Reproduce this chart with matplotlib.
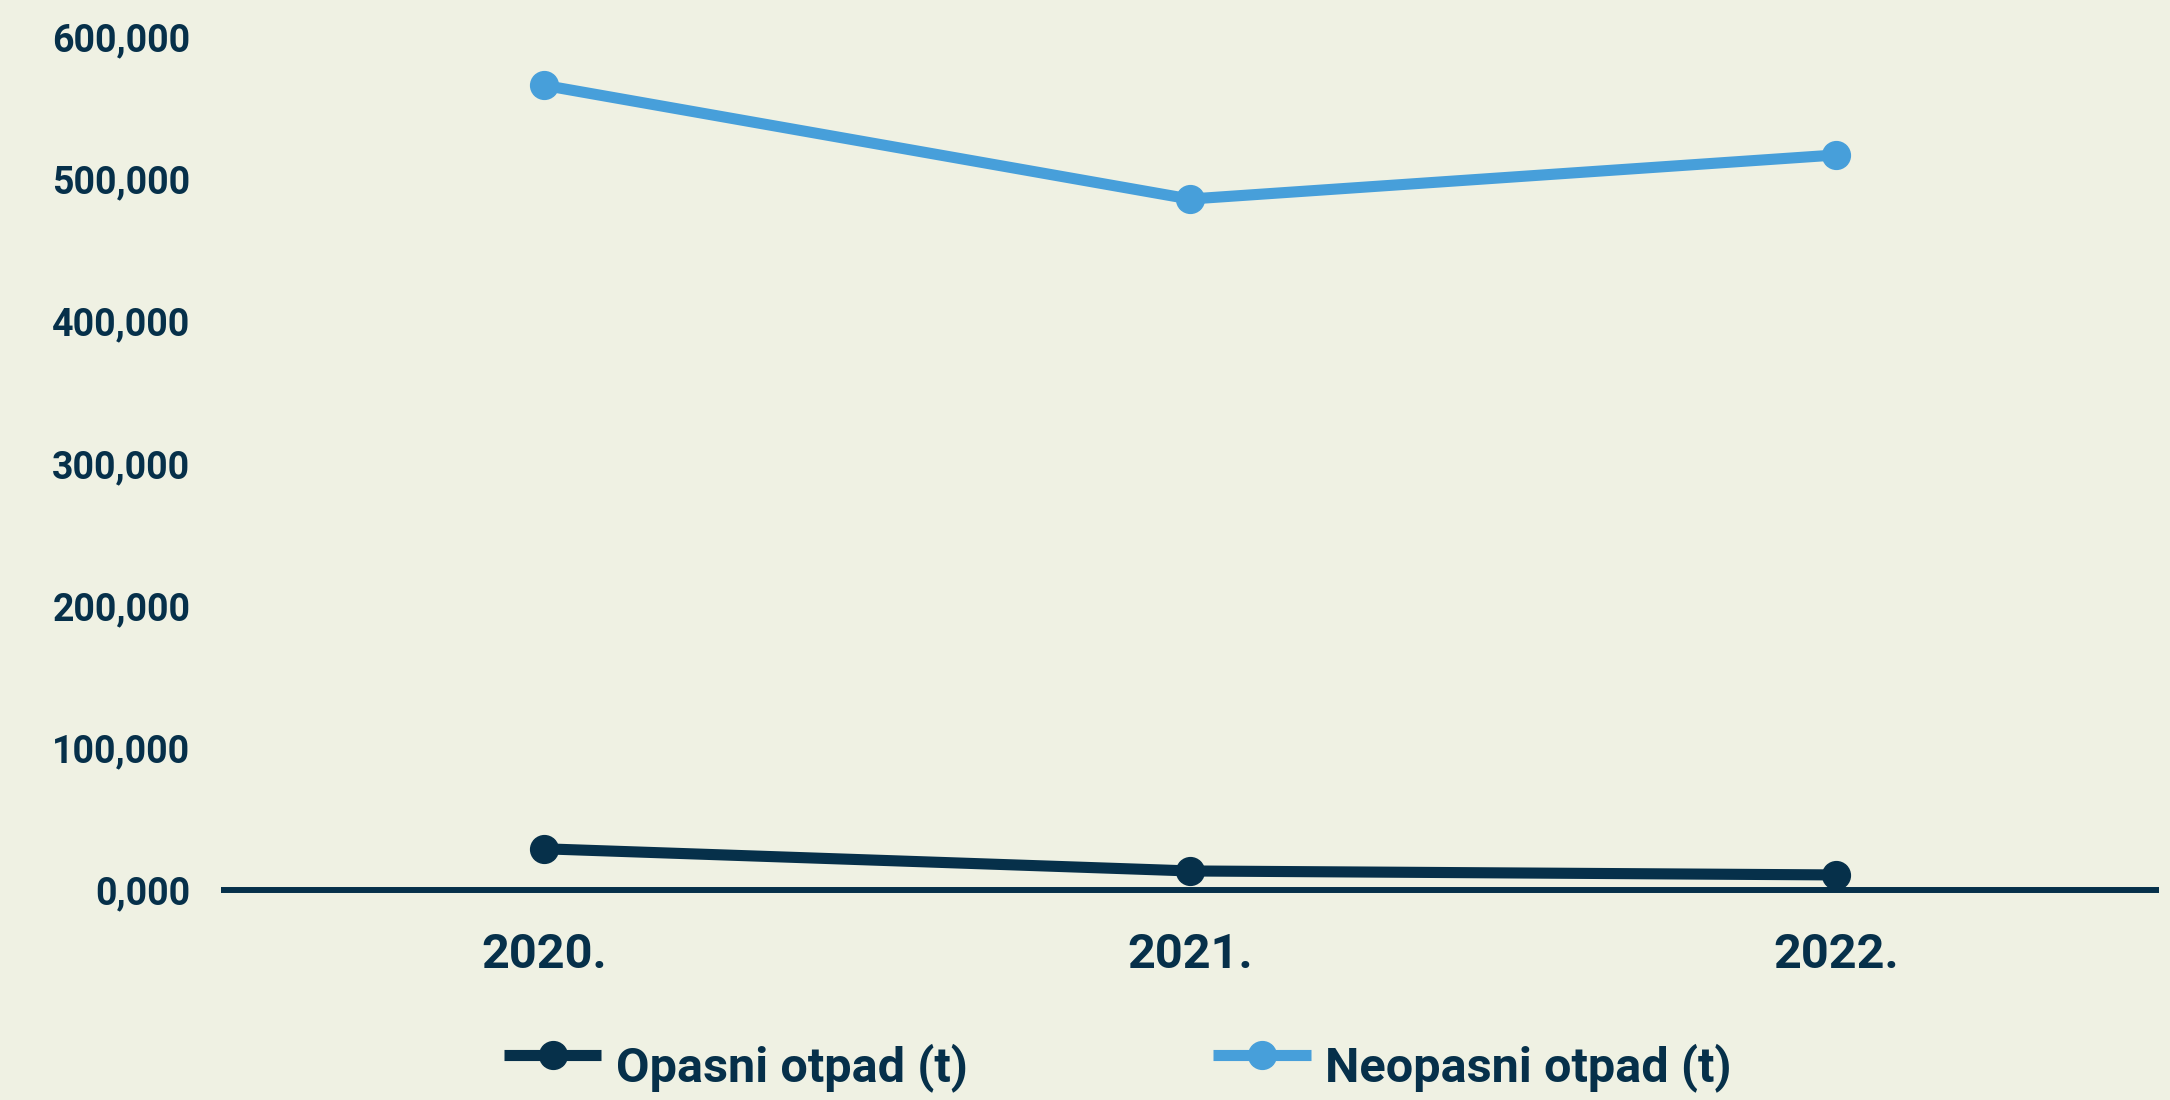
import matplotlib
matplotlib.use("Agg")
import matplotlib.pyplot as plt
from matplotlib.ticker import FixedLocator, FixedFormatter
from matplotlib.transforms import ScaledTranslation

plt.rcParams['font.family'] = ['Roboto', 'DejaVu Sans']
plt.rcParams['font.weight'] = 'bold'

# godine i količine otpada (tone)
godine = ["2020.", "2021.", "2022."]
opasni = [29000, 13400, 10600]
neopasni = [566000, 486000, 517000]
y_ticks = [0, 100000, 200000, 300000, 400000, 500000, 600000]
y_labels = ["0,000", "100,000", "200,000", "300,000", "400,000", "500,000", "600,000"]

BG = '#EFF1E3'
TAMNA = '#06304A'
SVIJETLA = '#479FDA'

fig = plt.figure(figsize=(21.7, 11.0), dpi=100, facecolor=BG)
ax = fig.add_axes([0.1018, 0.1909, 0.8931, 0.7755])
ax.set_facecolor(BG)

x = list(range(len(godine)))
ax.plot(x, opasni, color=TAMNA, lw=8, marker='o', ms=20, clip_on=False,
        solid_capstyle='butt', label="Opasni otpad (t)", zorder=3)
ax.plot(x, neopasni, color=SVIJETLA, lw=8, marker='o', ms=20, clip_on=False,
        solid_capstyle='butt', label="Neopasni otpad (t)", zorder=3)

ax.set_xlim(-0.5, 2.5)
ax.set_ylim(0, 600000)
ax.yaxis.set_major_locator(FixedLocator(y_ticks))
ax.yaxis.set_major_formatter(FixedFormatter(y_labels))
ax.set_xticks(x)
ax.set_xticklabels(godine)

for s in ['top', 'right', 'left']:
    ax.spines[s].set_visible(False)
ax.spines['bottom'].set_color(TAMNA)
ax.spines['bottom'].set_linewidth(4.3)
ax.spines['bottom'].set_capstyle('butt')

ax.tick_params(axis='y', length=0, pad=22, labelsize=27, labelcolor=TAMNA)
ax.tick_params(axis='x', length=0, pad=30, labelsize=35, labelcolor=TAMNA)

leg = fig.legend(loc='center', bbox_to_anchor=(1118 / 2170, 1 - 1058 / 1100), ncol=2,
                 frameon=False, fontsize=35, handlelength=2.0, handletextpad=0.3,
                 columnspacing=5.05)
# tekst legende malo niže od oznake linije
pomak = ScaledTranslation(0, -10 / 100, fig.dpi_scale_trans)
for t in leg.get_texts():
    t.set_color(TAMNA)
    t.set_transform(t.get_transform() + pomak)

fig.savefig("out.png", dpi=100, facecolor=BG)
